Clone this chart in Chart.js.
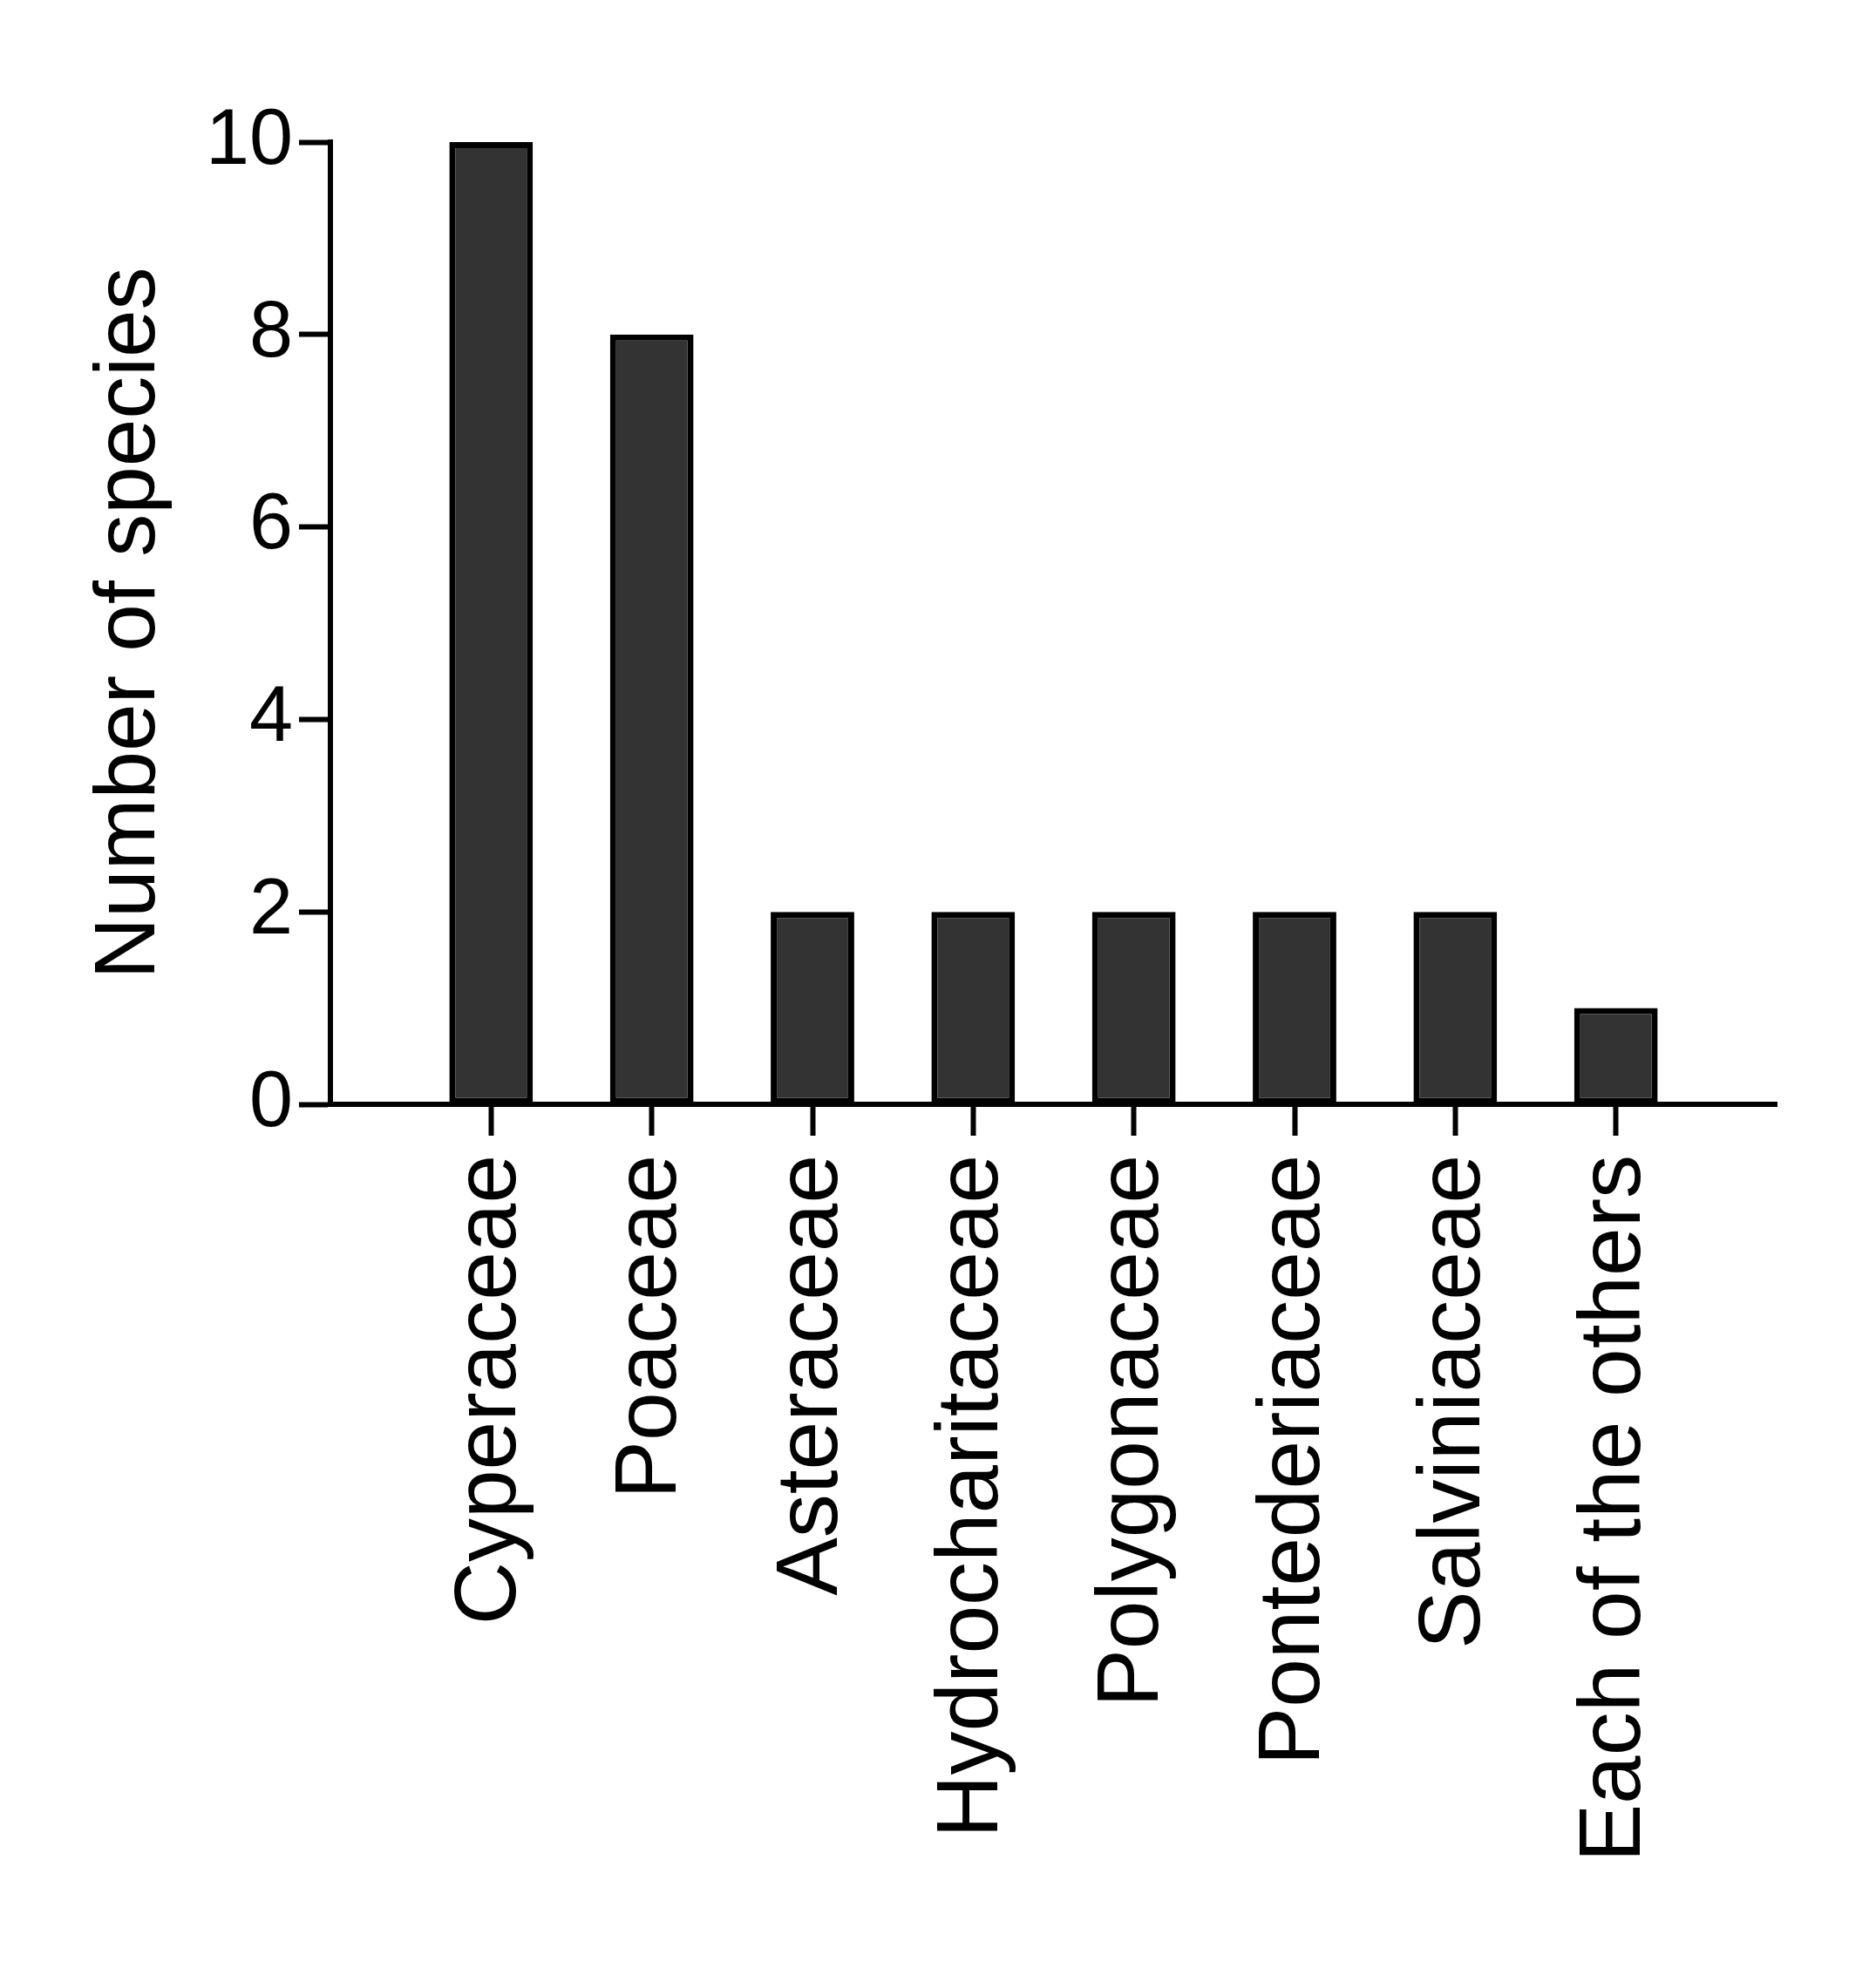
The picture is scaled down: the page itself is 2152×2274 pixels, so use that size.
<!DOCTYPE html>
<html>
<head>
<meta charset="utf-8">
<title>Number of species per family</title>
<script src="https://cdn.jsdelivr.net/npm/chart.js@4/dist/chart.umd.min.js"></script>
<style>
  html, body { margin: 0; padding: 0; background: #fff; }
  #speciesChart { display: block; }
</style>
</head>
<body>
<canvas id="speciesChart" width="2152" height="2274" style="width:2152px;height:2274px"></canvas>
<script>
// ============================
// DATA
// ============================
const families = [
  "Cyperaceae",
  "Poaceae",
  "Asteraceae",
  "Hydrocharitaceae",
  "Polygonaceae",
  "Pontederiaceae",
  "Salviniaceae",
  "Each of the others"
];
const speciesCounts = [10, 8, 2, 2, 2, 2, 2, 1];
const yTicks = [0, 2, 4, 6, 8, 10];

// ============================
// HELPERS
// ============================
const FONT = "'Liberation Sans', Arial, sans-serif";
const W = 2152, H = 2274;

// bars sit on a linear x axis so there is one empty slot at each end
const points = speciesCounts.map((v, i) => ({ x: i, y: v }));

// ============================
// CHART
// ============================
const ctx = document.getElementById("speciesChart").getContext("2d");

new Chart(ctx, {
  type: "bar",
  data: {
    datasets: [
      {
        label: "Number of species",
        data: points,
        backgroundColor: "#333333",
        borderColor: "#000000",
        borderWidth: 7,
        borderSkipped: false,
        categoryPercentage: 1,
        barPercentage: 0.52
      }
    ]
  },
  options: {
    responsive: false,
    animation: false,
    devicePixelRatio: 1,
    layout: {
      padding: { top: 163, right: 114, bottom: 0, left: 0 }
    },
    plugins: {
      legend: { display: false },
      tooltip: { enabled: false }
    },
    scales: {
      x: {
        type: "linear",
        offset: false,
        min: -1,
        max: families.length,
        afterBuildTicks: (scale) => {
          scale.ticks = families.map((f, i) => ({ value: i }));
        },
        afterFit: (scale) => { scale.height = H - 1267; },
        ticks: {
          autoSkip: false,
          minRotation: 90,
          maxRotation: 90,
          padding: 22,
          color: "#000",
          font: { family: FONT, size: 100 },
          callback: (value) => families[value]
        },
        grid: {
          offset: false,
          drawOnChartArea: false,
          drawTicks: true,
          tickLength: 36,
          tickWidth: 6,
          tickColor: "#000"
        },
        border: { display: true, color: "#000", width: 6, z: 1 }
      },
      y: {
        min: 0,
        max: 10,
        afterBuildTicks: (scale) => {
          scale.ticks = yTicks.map((v) => ({ value: v }));
        },
        afterFit: (scale) => { scale.width = 379; },
        ticks: {
          padding: 7,
          color: "#000",
          font: { family: FONT, size: 90 }
        },
        grid: {
          drawOnChartArea: false,
          drawTicks: true,
          tickLength: 36,
          tickWidth: 6,
          tickColor: "#000"
        },
        border: { display: true, color: "#000", width: 6 },
        title: {
          display: true,
          text: "Number of species",
          color: "#000",
          font: { family: FONT, size: 98, lineHeight: 1.2 },
          padding: { top: 91, bottom: 0 }
        }
      }
    }
  }
});
</script>
</body>
</html>
